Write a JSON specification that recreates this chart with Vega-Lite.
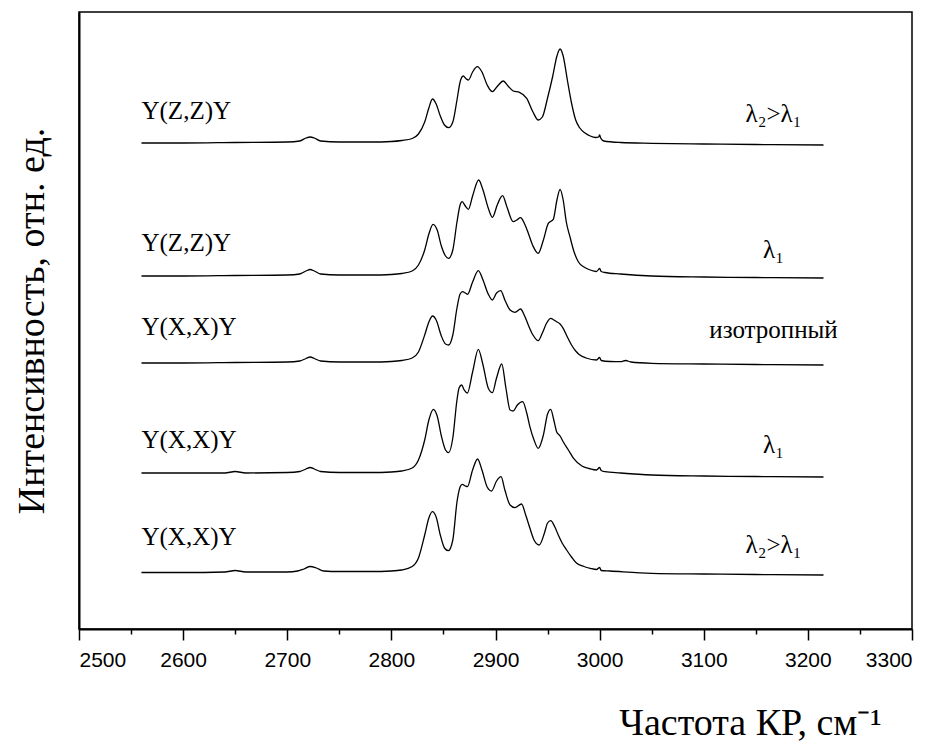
{
  "$schema": "https://vega.github.io/schema/vega-lite/v6.json",
  "autosize": {"type": "none"},
  "padding": {"left": 79, "top": 12, "right": 29, "bottom": 113},
  "width": 833,
  "height": 617,
  "background": "white",
  "config": {
    "view": {"stroke": "black", "strokeWidth": 1.5},
    "axis": {"domainColor": "black", "domainWidth": 2, "tickColor": "black", "tickWidth": 1.5, "grid": false,
             "labelFont": "Liberation Sans", "labelColor": "black", "titleFont": "Liberation Serif", "titleColor": "black", "titleFontWeight": "normal"}
  },
  "datasets": {
    "spectra": [
      {"s":"a","x":2560,"y":486},{"s":"a","x":2600,"y":486},{"s":"a","x":2650,"y":486.5},{"s":"a","x":2700,"y":487},{"s":"a","x":2712,"y":488},{"s":"a","x":2718,"y":491},{"s":"a","x":2722,"y":492},{"s":"a","x":2726,"y":491},{"s":"a","x":2732,"y":488},{"s":"a","x":2750,"y":487},{"s":"a","x":2780,"y":487},{"s":"a","x":2800,"y":487.5},{"s":"a","x":2810,"y":488.5},{"s":"a","x":2820,"y":490.5},{"s":"a","x":2826,"y":495},{"s":"a","x":2832,"y":507},{"s":"a","x":2836,"y":521},{"s":"a","x":2839.5,"y":530},{"s":"a","x":2843,"y":525},{"s":"a","x":2847,"y":513},{"s":"a","x":2851,"y":504},{"s":"a","x":2855,"y":501.3},{"s":"a","x":2859,"y":507},{"s":"a","x":2863,"y":529},{"s":"a","x":2866,"y":547},{"s":"a","x":2869,"y":553},{"s":"a","x":2872,"y":550},{"s":"a","x":2874,"y":549},{"s":"a","x":2878,"y":557},{"s":"a","x":2882.5,"y":562.3},{"s":"a","x":2887,"y":557},{"s":"a","x":2892,"y":544},{"s":"a","x":2897,"y":537.3},{"s":"a","x":2902,"y":543},{"s":"a","x":2907.5,"y":548},{"s":"a","x":2912,"y":543},{"s":"a","x":2917,"y":538},{"s":"a","x":2923,"y":536.7},{"s":"a","x":2930,"y":530.7},{"s":"a","x":2936,"y":517},{"s":"a","x":2941,"y":509},{"s":"a","x":2945,"y":512},{"s":"a","x":2950,"y":531},{"s":"a","x":2955,"y":553},{"s":"a","x":2959,"y":573},{"s":"a","x":2962,"y":580},{"s":"a","x":2965,"y":573},{"s":"a","x":2969,"y":549},{"s":"a","x":2973,"y":526},{"s":"a","x":2977,"y":509},{"s":"a","x":2981,"y":501},{"s":"a","x":2986,"y":496},{"s":"a","x":2991,"y":493},{"s":"a","x":2996,"y":491.5},{"s":"a","x":2999,"y":492},{"s":"a","x":3000,"y":494},{"s":"a","x":3001,"y":491},{"s":"a","x":3004,"y":488},{"s":"a","x":3020,"y":486.5},{"s":"a","x":3050,"y":485.7},{"s":"a","x":3100,"y":485},{"s":"a","x":3150,"y":484.5},{"s":"a","x":3215,"y":484},

      {"s":"b","x":2560,"y":353},{"s":"b","x":2600,"y":353},{"s":"b","x":2650,"y":353.5},{"s":"b","x":2700,"y":354},{"s":"b","x":2712,"y":355},{"s":"b","x":2718,"y":358},{"s":"b","x":2722,"y":359.5},{"s":"b","x":2726,"y":358},{"s":"b","x":2732,"y":355},{"s":"b","x":2750,"y":354},{"s":"b","x":2780,"y":354},{"s":"b","x":2800,"y":354.5},{"s":"b","x":2810,"y":355.5},{"s":"b","x":2820,"y":358},{"s":"b","x":2826,"y":364},{"s":"b","x":2832,"y":379},{"s":"b","x":2836,"y":395},{"s":"b","x":2840,"y":404.7},{"s":"b","x":2844,"y":399},{"s":"b","x":2848,"y":383},{"s":"b","x":2852,"y":373},{"s":"b","x":2855,"y":370.7},{"s":"b","x":2859,"y":379},{"s":"b","x":2863,"y":407},{"s":"b","x":2866,"y":424},{"s":"b","x":2868,"y":427.3},{"s":"b","x":2871,"y":423},{"s":"b","x":2874,"y":419.7},{"s":"b","x":2878,"y":433},{"s":"b","x":2883.8,"y":449},{"s":"b","x":2888,"y":439},{"s":"b","x":2893,"y":421},{"s":"b","x":2897,"y":411.7},{"s":"b","x":2902,"y":425},{"s":"b","x":2906.8,"y":433.3},{"s":"b","x":2911,"y":422},{"s":"b","x":2917,"y":407.3},{"s":"b","x":2920.5,"y":409},{"s":"b","x":2924,"y":411.3},{"s":"b","x":2928,"y":405},{"s":"b","x":2931.5,"y":395.7},{"s":"b","x":2936,"y":383},{"s":"b","x":2941,"y":375.7},{"s":"b","x":2946,"y":389},{"s":"b","x":2950.7,"y":405.7},{"s":"b","x":2955.5,"y":409.7},{"s":"b","x":2959,"y":429},{"s":"b","x":2962,"y":439.7},{"s":"b","x":2965,"y":429},{"s":"b","x":2968,"y":407},{"s":"b","x":2971.5,"y":392.3},{"s":"b","x":2975.5,"y":377},{"s":"b","x":2979.5,"y":367.3},{"s":"b","x":2985,"y":362},{"s":"b","x":2991,"y":359},{"s":"b","x":2997,"y":357.5},{"s":"b","x":3000,"y":360.5},{"s":"b","x":3001.5,"y":357.5},{"s":"b","x":3005,"y":356.5},{"s":"b","x":3020,"y":355},{"s":"b","x":3050,"y":353},{"s":"b","x":3100,"y":352},{"s":"b","x":3150,"y":351.5},{"s":"b","x":3215,"y":351},

      {"s":"c","x":2560,"y":266},{"s":"c","x":2600,"y":266},{"s":"c","x":2650,"y":266.5},{"s":"c","x":2700,"y":267},{"s":"c","x":2712,"y":268},{"s":"c","x":2718,"y":270.5},{"s":"c","x":2722,"y":272},{"s":"c","x":2726,"y":270.5},{"s":"c","x":2732,"y":268},{"s":"c","x":2750,"y":267},{"s":"c","x":2780,"y":267},{"s":"c","x":2800,"y":267.5},{"s":"c","x":2810,"y":268.5},{"s":"c","x":2820,"y":271},{"s":"c","x":2826,"y":277},{"s":"c","x":2832,"y":294},{"s":"c","x":2836,"y":307},{"s":"c","x":2839.6,"y":313},{"s":"c","x":2843,"y":309},{"s":"c","x":2848,"y":293},{"s":"c","x":2852,"y":285},{"s":"c","x":2855,"y":284},{"s":"c","x":2859,"y":294},{"s":"c","x":2863,"y":321},{"s":"c","x":2866,"y":335},{"s":"c","x":2868.4,"y":337.3},{"s":"c","x":2871,"y":336},{"s":"c","x":2873.2,"y":334.7},{"s":"c","x":2878,"y":347},{"s":"c","x":2883.5,"y":358.3},{"s":"c","x":2888,"y":349},{"s":"c","x":2893,"y":335},{"s":"c","x":2897,"y":329},{"s":"c","x":2901,"y":336},{"s":"c","x":2905,"y":338.3},{"s":"c","x":2909,"y":329},{"s":"c","x":2914,"y":319},{"s":"c","x":2918.7,"y":316.7},{"s":"c","x":2924,"y":320},{"s":"c","x":2928,"y":313},{"s":"c","x":2931.5,"y":304},{"s":"c","x":2936,"y":294},{"s":"c","x":2941,"y":288.3},{"s":"c","x":2945,"y":296},{"s":"c","x":2949,"y":305.7},{"s":"c","x":2953,"y":310.7},{"s":"c","x":2956,"y":309},{"s":"c","x":2958.7,"y":307.3},{"s":"c","x":2962,"y":305},{"s":"c","x":2965,"y":300.7},{"s":"c","x":2969,"y":292},{"s":"c","x":2973,"y":284},{"s":"c","x":2977,"y":278},{"s":"c","x":2981,"y":274},{"s":"c","x":2987,"y":271},{"s":"c","x":2997,"y":269},{"s":"c","x":3000,"y":271.5},{"s":"c","x":3001.5,"y":268.5},{"s":"c","x":3010,"y":267.5},{"s":"c","x":3020,"y":267.3},{"s":"c","x":3025,"y":268.5},{"s":"c","x":3030,"y":267},{"s":"c","x":3050,"y":265.7},{"s":"c","x":3100,"y":265},{"s":"c","x":3150,"y":264.5},{"s":"c","x":3215,"y":264},

      {"s":"d","x":2560,"y":156},{"s":"d","x":2600,"y":156},{"s":"d","x":2640,"y":156},{"s":"d","x":2650,"y":157.5},{"s":"d","x":2660,"y":156},{"s":"d","x":2700,"y":156.5},{"s":"d","x":2712,"y":157.5},{"s":"d","x":2718,"y":160},{"s":"d","x":2722,"y":161.5},{"s":"d","x":2726,"y":160},{"s":"d","x":2732,"y":157.5},{"s":"d","x":2750,"y":156.5},{"s":"d","x":2780,"y":156.5},{"s":"d","x":2800,"y":157},{"s":"d","x":2810,"y":158},{"s":"d","x":2820,"y":161},{"s":"d","x":2826,"y":169},{"s":"d","x":2832,"y":189},{"s":"d","x":2836,"y":209},{"s":"d","x":2840.3,"y":219.7},{"s":"d","x":2844,"y":213},{"s":"d","x":2848,"y":193},{"s":"d","x":2852,"y":179},{"s":"d","x":2855,"y":176.3},{"s":"d","x":2859,"y":191},{"s":"d","x":2863,"y":229},{"s":"d","x":2865,"y":241},{"s":"d","x":2867.4,"y":244},{"s":"d","x":2870,"y":239},{"s":"d","x":2873,"y":236},{"s":"d","x":2878,"y":257},{"s":"d","x":2883.5,"y":279.7},{"s":"d","x":2888,"y":264},{"s":"d","x":2893,"y":241},{"s":"d","x":2897,"y":236.3},{"s":"d","x":2901,"y":251},{"s":"d","x":2906,"y":265},{"s":"d","x":2910,"y":241},{"s":"d","x":2914,"y":219},{"s":"d","x":2917,"y":218},{"s":"d","x":2921,"y":224},{"s":"d","x":2926,"y":227.3},{"s":"d","x":2930,"y":216},{"s":"d","x":2933,"y":202.3},{"s":"d","x":2937,"y":189},{"s":"d","x":2941,"y":180.7},{"s":"d","x":2946,"y":194},{"s":"d","x":2950,"y":215},{"s":"d","x":2953,"y":219.7},{"s":"d","x":2956,"y":209},{"s":"d","x":2958.7,"y":197.3},{"s":"d","x":2962,"y":193},{"s":"d","x":2965,"y":187.3},{"s":"d","x":2970,"y":179},{"s":"d","x":2975,"y":170.7},{"s":"d","x":2983,"y":163},{"s":"d","x":2990,"y":160.5},{"s":"d","x":2997,"y":159},{"s":"d","x":3000,"y":161.5},{"s":"d","x":3001.5,"y":158.5},{"s":"d","x":3005,"y":157.3},{"s":"d","x":3020,"y":156},{"s":"d","x":3050,"y":154},{"s":"d","x":3100,"y":153},{"s":"d","x":3150,"y":152.5},{"s":"d","x":3215,"y":152},

      {"s":"e","x":2560,"y":56.5},{"s":"e","x":2600,"y":56.5},{"s":"e","x":2640,"y":57},{"s":"e","x":2650,"y":58.5},{"s":"e","x":2660,"y":57},{"s":"e","x":2700,"y":57},{"s":"e","x":2710,"y":58},{"s":"e","x":2716,"y":60},{"s":"e","x":2722,"y":62.5},{"s":"e","x":2728,"y":61},{"s":"e","x":2735,"y":58},{"s":"e","x":2750,"y":57.5},{"s":"e","x":2780,"y":57.5},{"s":"e","x":2800,"y":58},{"s":"e","x":2810,"y":59},{"s":"e","x":2820,"y":62.5},{"s":"e","x":2826,"y":71},{"s":"e","x":2832,"y":94},{"s":"e","x":2836,"y":111},{"s":"e","x":2839.3,"y":117.3},{"s":"e","x":2843,"y":112},{"s":"e","x":2847,"y":94},{"s":"e","x":2851,"y":81},{"s":"e","x":2854.7,"y":78.3},{"s":"e","x":2859,"y":89},{"s":"e","x":2863,"y":127},{"s":"e","x":2866,"y":142},{"s":"e","x":2868,"y":144.7},{"s":"e","x":2871,"y":143},{"s":"e","x":2873,"y":142.3},{"s":"e","x":2878,"y":159},{"s":"e","x":2882.8,"y":170},{"s":"e","x":2887,"y":159},{"s":"e","x":2892,"y":142},{"s":"e","x":2896.2,"y":138},{"s":"e","x":2901,"y":148},{"s":"e","x":2905.3,"y":152.3},{"s":"e","x":2909,"y":139},{"s":"e","x":2914,"y":124},{"s":"e","x":2918.7,"y":121.3},{"s":"e","x":2925,"y":125},{"s":"e","x":2929,"y":114},{"s":"e","x":2933,"y":101},{"s":"e","x":2937,"y":89},{"s":"e","x":2942,"y":84},{"s":"e","x":2947,"y":96},{"s":"e","x":2950,"y":106},{"s":"e","x":2953,"y":108.3},{"s":"e","x":2957,"y":102},{"s":"e","x":2960.3,"y":94},{"s":"e","x":2964,"y":86},{"s":"e","x":2968.3,"y":79},{"s":"e","x":2973,"y":72},{"s":"e","x":2978,"y":65.7},{"s":"e","x":2985,"y":62.5},{"s":"e","x":2991,"y":60.7},{"s":"e","x":2997,"y":59.5},{"s":"e","x":3000,"y":61.5},{"s":"e","x":3001.5,"y":58.5},{"s":"e","x":3010,"y":58},{"s":"e","x":3050,"y":55.7},{"s":"e","x":3100,"y":55},{"s":"e","x":3150,"y":54.5},{"s":"e","x":3215,"y":54}
    ],
    "labels": [
      {"side":"left","x":2560,"y":518,"t":"Y(Z,Z)Y"},
      {"side":"left","x":2560,"y":386,"t":"Y(Z,Z)Y"},
      {"side":"left","x":2560,"y":302,"t":"Y(X,X)Y"},
      {"side":"left","x":2560,"y":189,"t":"Y(X,X)Y"},
      {"side":"left","x":2560,"y":92,"t":"Y(X,X)Y"},
      {"side":"right","x":3167,"y":515,"t":"λ₂>λ₁"},
      {"side":"right","x":3167,"y":379,"t":"λ₁"},
      {"side":"right","x":3167,"y":299,"t":"изотропный"},
      {"side":"right","x":3167,"y":184,"t":"λ₁"},
      {"side":"right","x":3167,"y":84,"t":"λ₂>λ₁"}
    ]
  },
  "layer": [
    {
      "data": {"name": "spectra"},
      "mark": {"type": "line", "interpolate": "monotone", "color": "black", "strokeWidth": 1.3},
      "encoding": {
        "x": {"field": "x", "type": "quantitative", "scale": {"domain": [2500, 3300], "nice": false, "zero": false},
              "axis": {"title": "Частота КР, см⁻¹", "values": [2500,2550,2600,2650,2700,2750,2800,2850,2900,2950,3000,3050,3100,3150,3200,3250,3300],
                       "labelExpr": "datum.value % 100 === 0 ? datum.label : ''", "format": "d",
                       "tickSize": {"condition": {"test": "datum.value % 100 !== 0", "value": 5}, "value": 11},
                       "labelFontSize": 21, "labelPadding": 9, "titleFont": "Liberation Serif", "titleFontSize": 38, "titleX": 671, "titleY": 105, "titleAlign": "center", "titleBaseline": "alphabetic"}},
        "y": {"field": "y", "type": "quantitative", "scale": {"domain": [0, 617], "nice": false, "zero": false},
              "axis": {"title": "Интенсивность, отн. ед.", "ticks": false, "labels": false, "titleFont": "Liberation Serif", "titleFontSize": 38, "titlePadding": 28}},
        "detail": {"field": "s"}
      }
    },
    {
      "data": {"name": "labels"},
      "transform": [{"filter": "datum.side === 'left'"}],
      "mark": {"type": "text", "align": "left", "baseline": "middle", "font": "Liberation Serif", "fontSize": 25, "color": "black"},
      "encoding": {
        "x": {"field": "x", "type": "quantitative"},
        "y": {"field": "y", "type": "quantitative"},
        "text": {"field": "t"}
      }
    },
    {
      "data": {"name": "labels"},
      "transform": [{"filter": "datum.side === 'right'"}],
      "mark": {"type": "text", "align": "center", "baseline": "middle", "font": "Liberation Serif", "fontSize": 25, "color": "black"},
      "encoding": {
        "x": {"field": "x", "type": "quantitative"},
        "y": {"field": "y", "type": "quantitative"},
        "text": {"field": "t"}
      }
    }
  ]
}
